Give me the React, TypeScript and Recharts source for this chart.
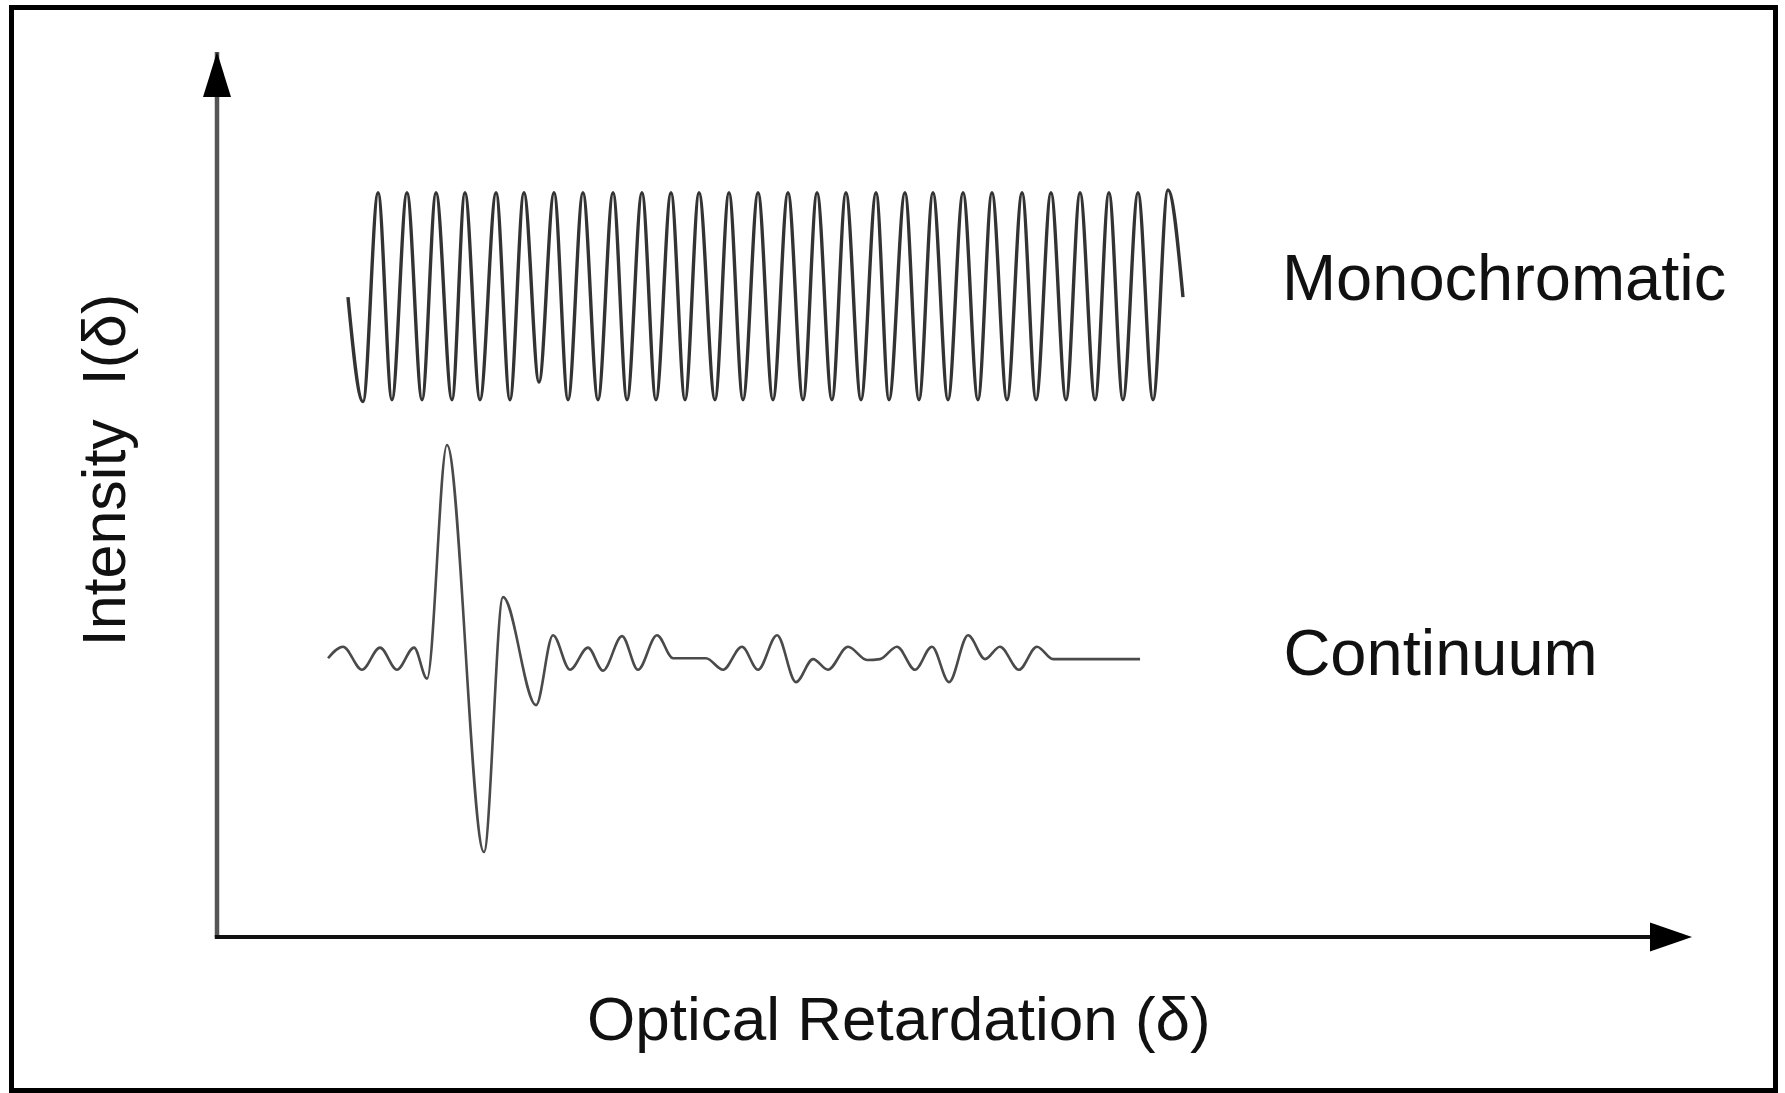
import React from "react"
import { LineChart, Line, XAxis, YAxis, ReferenceDot, ReferenceLine } from "recharts"

// retardation (arbitrary units 0-100) and intensity (arbitrary units 0-100)
const monoRetardation = [
  8.88,
  9.9, 10.92, 11.86, 12.88, 13.9, 14.85, 15.93, 16.81, 17.83, 18.92,
  19.86, 20.81, 21.83, 22.85, 23.8, 24.81, 25.83, 26.85, 27.8, 28.81,
  29.76, 30.78, 31.73, 32.68, 33.76, 34.71, 35.66, 36.68, 37.69, 38.71,
  39.73, 40.68, 41.69, 42.64, 43.66, 44.68, 45.56, 46.64, 47.59, 48.54,
  49.56, 50.58, 51.59, 52.54, 53.56, 54.58, 55.53, 56.54, 57.56, 58.51,
  59.53, 60.47, 61.42, 62.44, 63.46, 64.47,
  65.49,
]
const monoIntensity = [
  72.3,
  60.5, 84.1, 60.7, 84.1, 60.7, 84.1, 60.7, 84.1, 60.7, 84.1,
  60.7, 84.1, 62.7, 84.1, 60.7, 84.1, 60.7, 84.1, 60.7, 84.1,
  60.7, 84.1, 60.7, 84.1, 60.7, 84.1, 60.7, 84.1, 60.7, 84.1,
  60.7, 84.1, 60.7, 84.1, 60.7, 84.1, 60.7, 84.1, 60.7, 84.1,
  60.7, 84.1, 60.7, 84.1, 60.7, 84.1, 60.7, 84.1, 60.7, 84.1,
  60.7, 84.1, 60.7, 84.1, 60.7, 84.4,
  72.3,
]

const contRetardation = [
  7.53, 8.54, 9.83, 11.05, 12.2, 13.36, 14.24, 15.59, 18.1, 19.39,
  21.63, 22.78, 23.93, 25.15, 26.17, 27.46, 28.54, 29.83, 30.92, 33.15,
  34.31, 35.59, 36.68, 37.97, 39.25, 40.41, 41.42, 42.78, 44.07, 44.95,
  46.1, 47.32, 48.47, 49.63, 50.92, 52.07, 53.08, 54.37, 55.59, 56.68,
  62.58,
]
const contIntensity = [
  31.5, 32.8, 30.2, 32.7, 30.2, 32.7, 29.2, 55.6, 9.6, 38.4,
  26.2, 34.1, 30.2, 32.7, 30.1, 34.0, 30.2, 34.1, 31.5, 31.5,
  30.2, 32.8, 30.2, 34.1, 28.8, 31.4, 30.2, 32.8, 31.3, 31.4,
  32.8, 30.2, 32.8, 28.8, 34.1, 31.4, 32.8, 30.2, 32.8, 31.4,
  31.4,
]

const seriesNames = ["Monochromatic", "Continuum"]
const xTitle = "Optical Retardation (\u03b4)"
const yTitle = "Intensity\u00a0\u00a0I(\u03b4)"

const monoData = monoRetardation.map((x, i) => ({ x, y: monoIntensity[i] }))
const contData = contRetardation.map((x, i) => ({ x, y: contIntensity[i] }))

const font = '"Liberation Sans", Arial, Helvetica, sans-serif'

const UpArrow = (p: any) => (
  <polygon
    points={`${p.cx},${p.cy} ${p.cx - 14},${p.cy + 45} ${p.cx + 14},${p.cy + 45}`}
    fill="#000"
  />
)

const RightArrow = (p: any) => (
  <polygon
    points={`${p.cx},${p.cy} ${p.cx - 42},${p.cy - 14.5} ${p.cx - 42},${p.cy + 14.5}`}
    fill="#000"
  />
)

const seriesText = (name: string) => (p: any) => (
  <text x={p.cx} y={p.cy} fontFamily={font} fontSize={65} fill="#111">
    {name}
  </text>
)

// axis titles, placed relative to the origin of the axes
const AxisTitles = (p: any) => {
  const yx = p.cx - 92
  const yy = p.cy - 467
  return (
    <g>
      <text x={p.cx + 370} y={p.cy + 103} fontFamily={font} fontSize={62} fill="#111">
        {xTitle}
      </text>
      <text
        x={yx}
        y={yy}
        transform={`rotate(-90 ${yx} ${yy})`}
        textAnchor="middle"
        fontFamily={font}
        fontSize={61}
        fill="#111"
      >
        {yTitle}
      </text>
    </g>
  )
}

const App = () => {
  return (
    <div style={{ position: "absolute", left: 0, top: 0, width: 1785, height: 1093, background: "#fff" }}>
      <div
        style={{
          position: "absolute",
          left: 9,
          top: 5,
          width: 1769,
          height: 1088,
          border: "5px solid #000",
          boxSizing: "border-box",
        }}
      />
      <div style={{ position: "absolute", left: 0, top: 0 }}>
        <LineChart width={1785} height={1093} margin={{ top: 52, right: 93, bottom: 156, left: 217 }}>
          <XAxis type="number" dataKey="x" domain={[0, 100]} hide />
          <YAxis type="number" dataKey="y" domain={[0, 100]} hide />
          <ReferenceLine
            segment={[{ x: 0, y: 0 }, { x: 0, y: 100 }]}
            stroke="#555"
            strokeWidth={4.5}
            ifOverflow="visible"
          />
          <ReferenceLine
            segment={[{ x: -0.15, y: 0 }, { x: 98, y: 0 }]}
            stroke="#111"
            strokeWidth={4}
            ifOverflow="visible"
          />
          <Line
            data={monoData}
            dataKey="y"
            type="monotone"
            dot={false}
            stroke="#333"
            strokeWidth={3.4}
            isAnimationActive={false}
          />
          <Line
            data={contData}
            dataKey="y"
            type="monotone"
            dot={false}
            stroke="#4a4a4a"
            strokeWidth={2.6}
            isAnimationActive={false}
          />
          <ReferenceDot x={0} y={100} r={0} shape={UpArrow} ifOverflow="visible" />
          <ReferenceDot x={100} y={0} r={0} shape={RightArrow} ifOverflow="visible" />
          <ReferenceDot x={0} y={0} r={0} shape={AxisTitles} ifOverflow="visible" />
          <ReferenceDot x={72.2} y={72} r={0} shape={seriesText(seriesNames[0])} ifOverflow="visible" />
          <ReferenceDot x={72.3} y={29.6} r={0} shape={seriesText(seriesNames[1])} ifOverflow="visible" />
        </LineChart>
      </div>
    </div>
  )
}

export default App
